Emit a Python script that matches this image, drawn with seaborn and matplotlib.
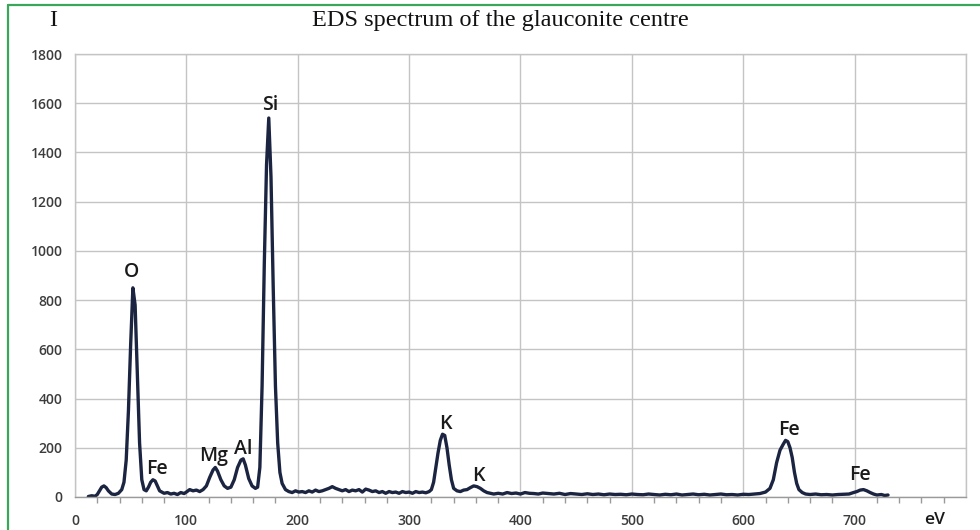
import matplotlib
matplotlib.use("Agg")
import matplotlib.pyplot as plt
import seaborn as sns
import pandas as pd
from matplotlib.lines import Line2D

# ---- data ----
energy = [12, 15, 18, 20, 22, 24, 26, 28, 30, 33, 36, 39, 42, 44, 46, 48, 50, 52, 54, 56, 58, 60,
          62, 64, 66, 68, 70, 72, 74, 76, 78, 80, 83, 86, 89, 92, 95, 98, 100, 103, 106, 109,
          112, 115, 118, 121, 124, 126, 128, 131, 134, 137, 140, 143, 146, 149, 151, 153, 156,
          159, 162, 164, 166, 168, 170, 172, 174, 176, 178, 180, 182, 184, 186, 189, 192, 195,
          198, 201, 204, 207, 210, 213, 216, 219, 222, 225, 228, 231, 234, 237, 240, 243, 246,
          249, 252, 255, 258, 261, 264, 267, 270, 273, 276, 279, 282, 285, 288, 291, 294, 297,
          300, 303, 306, 309, 312, 315, 318, 320, 322, 324, 326, 328, 330, 332, 334, 336, 338,
          340, 343, 346, 349, 352, 355, 358, 361, 364, 367, 370, 373, 376, 380, 384, 388, 392,
          396, 400, 404, 408, 412, 416, 420, 425, 430, 435, 440, 445, 450, 455, 460, 465, 470,
          475, 480, 485, 490, 495, 500, 505, 510, 515, 520, 525, 530, 535, 540, 545, 550, 555,
          560, 565, 570, 575, 580, 585, 590, 595, 600, 605, 610, 615, 620, 624, 627, 630, 633,
          636, 638, 640, 642, 644, 646, 648, 650, 653, 656, 660, 665, 670, 675, 680, 685, 690,
          695, 699, 702, 705, 708, 711, 714, 717, 720, 724, 727, 730]
intensity = [2, 5, 3, 10, 25, 40, 45, 38, 25, 12, 10, 15, 30, 60, 150, 350, 620, 850, 780, 500, 220, 70,
             30, 25, 40, 60, 70, 65, 45, 25, 20, 15, 18, 12, 15, 10, 18, 14, 20, 30, 25, 28,
             22, 30, 45, 80, 110, 120, 105, 70, 45, 35, 40, 70, 120, 150, 155, 130, 75,
             45, 35, 40, 120, 450, 950, 1350, 1540, 1300, 850, 450, 220, 100, 55, 30, 22, 18,
             25, 20, 22, 18, 25, 20, 28, 22, 25, 30, 35, 42, 35, 30, 25, 30, 22,
             28, 25, 30, 20, 32, 28, 22, 25, 18, 22, 15, 22, 18, 20, 15, 22, 18,
             20, 15, 22, 18, 20, 17, 22, 30, 60, 120, 180, 230, 255, 250, 200, 130, 70,
             35, 25, 22, 28, 30, 38, 45, 42, 35, 25, 18, 15, 12, 15, 12, 18, 14,
             16, 12, 18, 15, 14, 12, 16, 14, 12, 15, 10, 14, 12, 10, 13, 10, 12,
             9, 12, 10, 11, 9, 12, 10, 9, 12, 10, 8, 11, 9, 12, 8, 10, 12,
             9, 11, 8, 10, 12, 9, 10, 8, 11, 10, 12, 14, 20, 35, 70, 140, 190,
             215, 230, 225, 200, 160, 100, 55, 30, 18, 12, 10, 12, 9, 10, 8, 10, 11,
             12, 18, 22, 28, 30, 25, 18, 12, 8, 10, 6, 8]

peak_labels = ["O", "Fe", "Mg", "Al", "Si", "K", "K", "Fe", "Fe"]
peak_x = [51, 73.5, 124.5, 151, 175, 333, 362, 641, 705]
peak_y = [916, 114, 167, 195, 1592, 297, 85, 273, 90]

x_ticks = [0, 100, 200, 300, 400, 500, 600, 700]
y_ticks = [0, 200, 400, 600, 800, 1000, 1200, 1400, 1600, 1800]

df = pd.DataFrame({"eV": energy, "I": intensity})

sns.set_theme(style="white")
plt.rcParams["font.family"] = ["Open Sans", "DejaVu Sans"]

fig = plt.figure(figsize=(9.8, 5.3), dpi=100)
ax = fig.add_axes([0.0765, 0.0623, 0.9092, 0.8357])

sns.lineplot(data=df, x="eV", y="I", ax=ax, color="#1b2440", linewidth=2.4)

ax.set_xlim(0, 800)
ax.set_ylim(0, 1800)
ax.set_xticks(x_ticks + [800])
ax.set_xticklabels([str(t) for t in x_ticks] + [""])
ax.set_yticks(y_ticks)
ax.set_yticklabels([str(t) for t in y_ticks])
ax.set_xticks(range(0, 801, 20), minor=True)

ax.grid(True, which="major", color="#c4c4c4", linewidth=1.0)
ax.set_axisbelow(True)
for side in ["top", "right", "left"]:
    ax.spines[side].set_color("#c4c4c4")
    ax.spines[side].set_linewidth(1.0)
ax.spines["bottom"].set_color("#9a9a9a")
ax.spines["bottom"].set_linewidth(1.0)

ax.tick_params(axis="x", which="major", length=4, color="#9a9a9a", pad=8,
               labelsize=10, labelcolor="#3c3c3c")
ax.tick_params(axis="x", which="minor", length=4, color="#9a9a9a", bottom=True)
ax.tick_params(axis="y", which="major", length=0, pad=9, labelsize=10, labelcolor="#3c3c3c")
for lab in ax.get_xticklabels() + ax.get_yticklabels():
    lab.set_fontweight("semibold")

ax.set_xlabel("")
ax.set_ylabel("")

for lab, xx, yy in zip(peak_labels, peak_x, peak_y):
    ax.text(xx, yy, lab, ha="center", va="center", fontsize=14, color="#1a1a1a",
            fontweight="semibold")

fig.text(0.511, 0.962, "EDS spectrum of the glauconite centre", ha="center", va="center",
         fontsize=17.5, family=["Liberation Serif", "DejaVu Serif"], color="#111111")
fig.text(0.054, 0.962, "I", ha="center", va="center", fontsize=17.5,
         family=["Liberation Serif", "DejaVu Serif"], color="#111111")
fig.text(0.954, 0.004, "eV", ha="center", va="bottom", fontsize=12.5, color="#1a1a1a",
         fontweight="semibold")

# green frame (left and top edges)
fig.add_artist(Line2D([0.0085, 0.0085], [0.0, 0.991], transform=fig.transFigure,
                      color="#3aa65a", linewidth=1.6))
fig.add_artist(Line2D([0.0085, 1.0], [0.991, 0.991], transform=fig.transFigure,
                      color="#3aa65a", linewidth=1.6))

fig.savefig("out.png", dpi=100, facecolor="white")
